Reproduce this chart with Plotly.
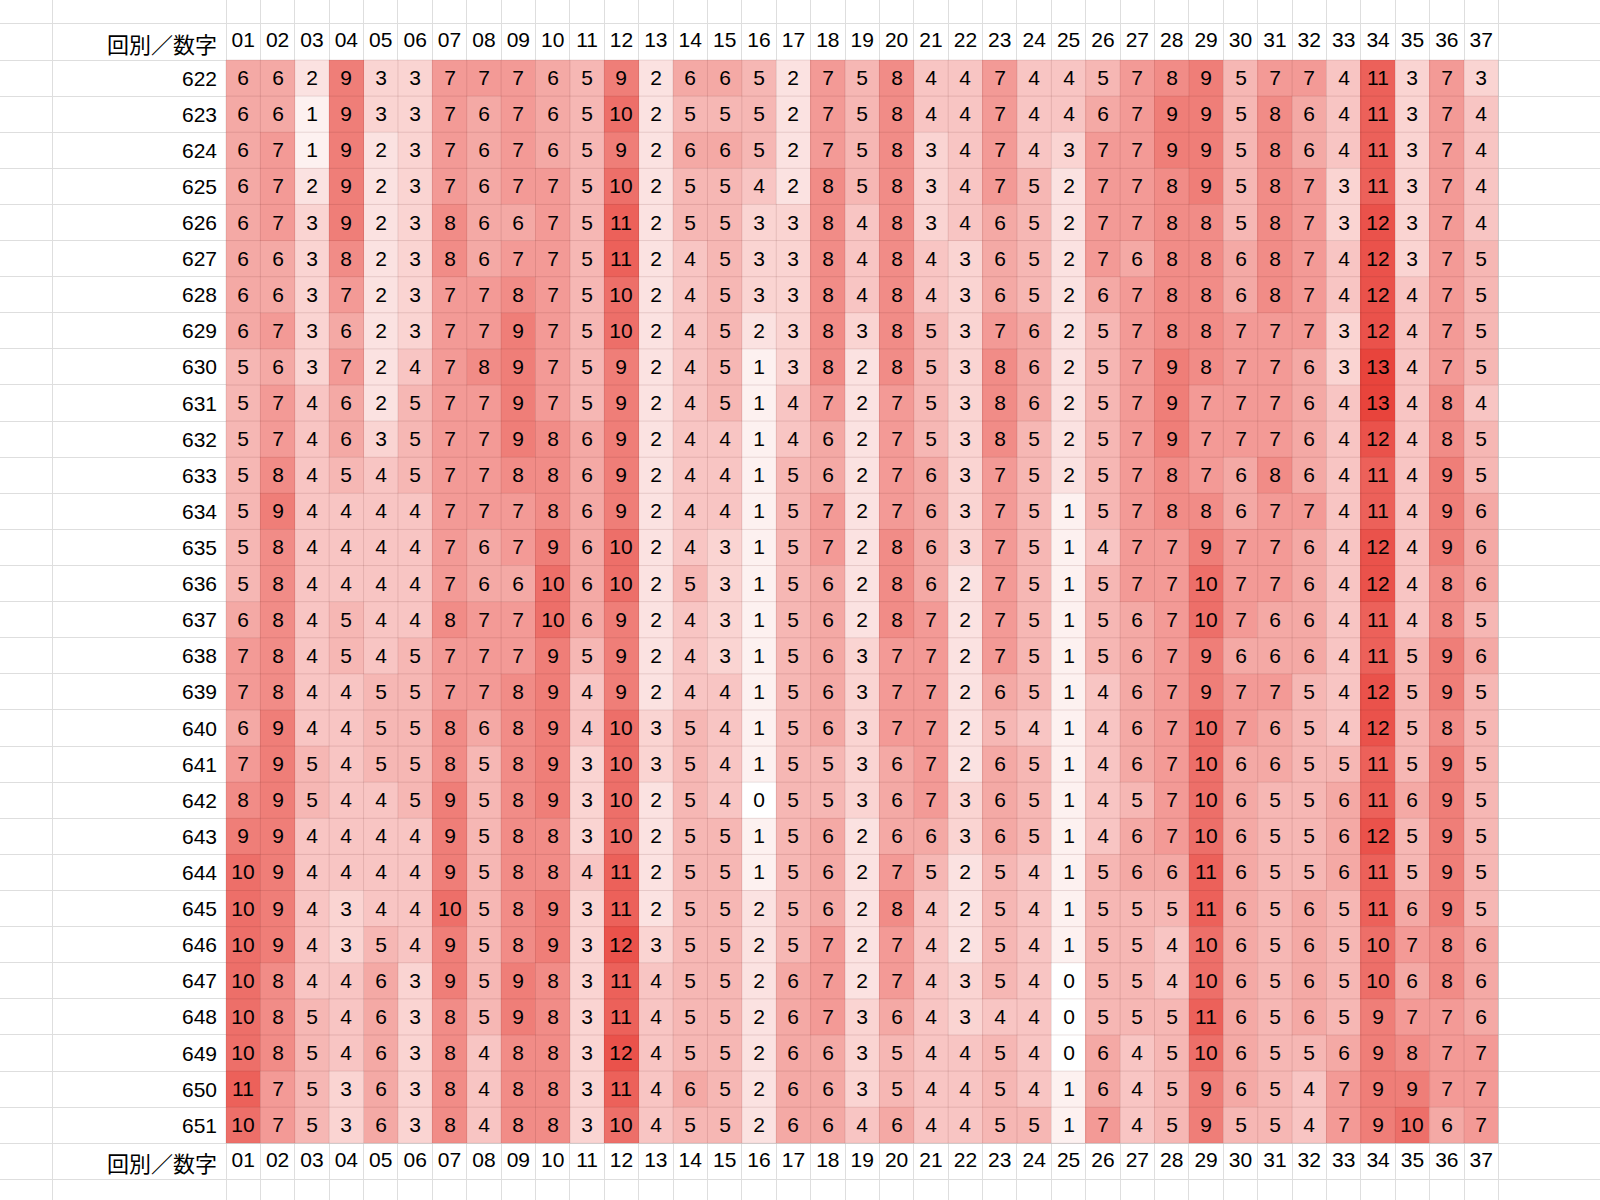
import plotly.graph_objects as go

# ---------------- data ----------------
corner_label = "回別／数字"
numbers = [f"{i:02d}" for i in range(1, 38)]
draws = [str(d) for d in range(622, 652)]

counts = [
    [6, 6, 2, 9, 3, 3, 7, 7, 7, 6, 5, 9, 2, 6, 6, 5, 2, 7, 5, 8, 4, 4, 7, 4, 4, 5, 7, 8, 9, 5, 7, 7, 4, 11, 3, 7, 3],
    [6, 6, 1, 9, 3, 3, 7, 6, 7, 6, 5, 10, 2, 5, 5, 5, 2, 7, 5, 8, 4, 4, 7, 4, 4, 6, 7, 9, 9, 5, 8, 6, 4, 11, 3, 7, 4],
    [6, 7, 1, 9, 2, 3, 7, 6, 7, 6, 5, 9, 2, 6, 6, 5, 2, 7, 5, 8, 3, 4, 7, 4, 3, 7, 7, 9, 9, 5, 8, 6, 4, 11, 3, 7, 4],
    [6, 7, 2, 9, 2, 3, 7, 6, 7, 7, 5, 10, 2, 5, 5, 4, 2, 8, 5, 8, 3, 4, 7, 5, 2, 7, 7, 8, 9, 5, 8, 7, 3, 11, 3, 7, 4],
    [6, 7, 3, 9, 2, 3, 8, 6, 6, 7, 5, 11, 2, 5, 5, 3, 3, 8, 4, 8, 3, 4, 6, 5, 2, 7, 7, 8, 8, 5, 8, 7, 3, 12, 3, 7, 4],
    [6, 6, 3, 8, 2, 3, 8, 6, 7, 7, 5, 11, 2, 4, 5, 3, 3, 8, 4, 8, 4, 3, 6, 5, 2, 7, 6, 8, 8, 6, 8, 7, 4, 12, 3, 7, 5],
    [6, 6, 3, 7, 2, 3, 7, 7, 8, 7, 5, 10, 2, 4, 5, 3, 3, 8, 4, 8, 4, 3, 6, 5, 2, 6, 7, 8, 8, 6, 8, 7, 4, 12, 4, 7, 5],
    [6, 7, 3, 6, 2, 3, 7, 7, 9, 7, 5, 10, 2, 4, 5, 2, 3, 8, 3, 8, 5, 3, 7, 6, 2, 5, 7, 8, 8, 7, 7, 7, 3, 12, 4, 7, 5],
    [5, 6, 3, 7, 2, 4, 7, 8, 9, 7, 5, 9, 2, 4, 5, 1, 3, 8, 2, 8, 5, 3, 8, 6, 2, 5, 7, 9, 8, 7, 7, 6, 3, 13, 4, 7, 5],
    [5, 7, 4, 6, 2, 5, 7, 7, 9, 7, 5, 9, 2, 4, 5, 1, 4, 7, 2, 7, 5, 3, 8, 6, 2, 5, 7, 9, 7, 7, 7, 6, 4, 13, 4, 8, 4],
    [5, 7, 4, 6, 3, 5, 7, 7, 9, 8, 6, 9, 2, 4, 4, 1, 4, 6, 2, 7, 5, 3, 8, 5, 2, 5, 7, 9, 7, 7, 7, 6, 4, 12, 4, 8, 5],
    [5, 8, 4, 5, 4, 5, 7, 7, 8, 8, 6, 9, 2, 4, 4, 1, 5, 6, 2, 7, 6, 3, 7, 5, 2, 5, 7, 8, 7, 6, 8, 6, 4, 11, 4, 9, 5],
    [5, 9, 4, 4, 4, 4, 7, 7, 7, 8, 6, 9, 2, 4, 4, 1, 5, 7, 2, 7, 6, 3, 7, 5, 1, 5, 7, 8, 8, 6, 7, 7, 4, 11, 4, 9, 6],
    [5, 8, 4, 4, 4, 4, 7, 6, 7, 9, 6, 10, 2, 4, 3, 1, 5, 7, 2, 8, 6, 3, 7, 5, 1, 4, 7, 7, 9, 7, 7, 6, 4, 12, 4, 9, 6],
    [5, 8, 4, 4, 4, 4, 7, 6, 6, 10, 6, 10, 2, 5, 3, 1, 5, 6, 2, 8, 6, 2, 7, 5, 1, 5, 7, 7, 10, 7, 7, 6, 4, 12, 4, 8, 6],
    [6, 8, 4, 5, 4, 4, 8, 7, 7, 10, 6, 9, 2, 4, 3, 1, 5, 6, 2, 8, 7, 2, 7, 5, 1, 5, 6, 7, 10, 7, 6, 6, 4, 11, 4, 8, 5],
    [7, 8, 4, 5, 4, 5, 7, 7, 7, 9, 5, 9, 2, 4, 3, 1, 5, 6, 3, 7, 7, 2, 7, 5, 1, 5, 6, 7, 9, 6, 6, 6, 4, 11, 5, 9, 6],
    [7, 8, 4, 4, 5, 5, 7, 7, 8, 9, 4, 9, 2, 4, 4, 1, 5, 6, 3, 7, 7, 2, 6, 5, 1, 4, 6, 7, 9, 7, 7, 5, 4, 12, 5, 9, 5],
    [6, 9, 4, 4, 5, 5, 8, 6, 8, 9, 4, 10, 3, 5, 4, 1, 5, 6, 3, 7, 7, 2, 5, 4, 1, 4, 6, 7, 10, 7, 6, 5, 4, 12, 5, 8, 5],
    [7, 9, 5, 4, 5, 5, 8, 5, 8, 9, 3, 10, 3, 5, 4, 1, 5, 5, 3, 6, 7, 2, 6, 5, 1, 4, 6, 7, 10, 6, 6, 5, 5, 11, 5, 9, 5],
    [8, 9, 5, 4, 4, 5, 9, 5, 8, 9, 3, 10, 2, 5, 4, 0, 5, 5, 3, 6, 7, 3, 6, 5, 1, 4, 5, 7, 10, 6, 5, 5, 6, 11, 6, 9, 5],
    [9, 9, 4, 4, 4, 4, 9, 5, 8, 8, 3, 10, 2, 5, 5, 1, 5, 6, 2, 6, 6, 3, 6, 5, 1, 4, 6, 7, 10, 6, 5, 5, 6, 12, 5, 9, 5],
    [10, 9, 4, 4, 4, 4, 9, 5, 8, 8, 4, 11, 2, 5, 5, 1, 5, 6, 2, 7, 5, 2, 5, 4, 1, 5, 6, 6, 11, 6, 5, 5, 6, 11, 5, 9, 5],
    [10, 9, 4, 3, 4, 4, 10, 5, 8, 9, 3, 11, 2, 5, 5, 2, 5, 6, 2, 8, 4, 2, 5, 4, 1, 5, 5, 5, 11, 6, 5, 6, 5, 11, 6, 9, 5],
    [10, 9, 4, 3, 5, 4, 9, 5, 8, 9, 3, 12, 3, 5, 5, 2, 5, 7, 2, 7, 4, 2, 5, 4, 1, 5, 5, 4, 10, 6, 5, 6, 5, 10, 7, 8, 6],
    [10, 8, 4, 4, 6, 3, 9, 5, 9, 8, 3, 11, 4, 5, 5, 2, 6, 7, 2, 7, 4, 3, 5, 4, 0, 5, 5, 4, 10, 6, 5, 6, 5, 10, 6, 8, 6],
    [10, 8, 5, 4, 6, 3, 8, 5, 9, 8, 3, 11, 4, 5, 5, 2, 6, 7, 3, 6, 4, 3, 4, 4, 0, 5, 5, 5, 11, 6, 5, 6, 5, 9, 7, 7, 6],
    [10, 8, 5, 4, 6, 3, 8, 4, 8, 8, 3, 12, 4, 5, 5, 2, 6, 6, 3, 5, 4, 4, 5, 4, 0, 6, 4, 5, 10, 6, 5, 5, 6, 9, 8, 7, 7],
    [11, 7, 5, 3, 6, 3, 8, 4, 8, 8, 3, 11, 4, 6, 5, 2, 6, 6, 3, 5, 4, 4, 5, 4, 1, 6, 4, 5, 9, 6, 5, 4, 7, 9, 9, 7, 7],
    [10, 7, 5, 3, 6, 3, 8, 4, 8, 8, 3, 10, 4, 5, 5, 2, 6, 6, 4, 6, 4, 4, 5, 5, 1, 7, 4, 5, 9, 5, 5, 4, 7, 9, 10, 6, 7],
]

# ---------------- layout constants (sheet geometry) ----------------
W, H = 1600, 1200
COL_W = 34.39          # px per number column
ROW_H = 36.11          # px per row
TABLE_LEFT = 226       # px, left edge of column "01"
HEADER_BOTTOM = 60     # px, top edge of first data row
FIRST_COL_LINE = 52    # px, leftmost sheet gridline

def px_to_col(px):
    return 0.5 + (px - TABLE_LEFT) / COL_W

def px_to_row(py):
    return 0.5 + (py - HEADER_BOTTOM) / ROW_H

n_cols = len(numbers)
n_rows = len(draws)
col_pos = list(range(1, n_cols + 1))
row_pos = list(range(1, n_rows + 1))
top_hdr_row = 0
bot_hdr_row = n_rows + 1

FONT = "Liberation Sans, Arial, sans-serif"
CJK = "Noto Sans CJK JP, Noto Sans CJK SC, sans-serif"
FS = 21
TXT = "#000000"

fig = go.Figure()

fig.add_trace(go.Heatmap(
    x=col_pos, y=row_pos, z=counts,
    zmin=0, zmax=13,
    colorscale=[[0, "#ffffff"], [1, "rgb(232,68,60)"]],
    showscale=False,
    texttemplate="%{z}",
    textfont=dict(family=FONT, size=FS, color=TXT),
    hoverinfo="skip",
))

# column headers (top and bottom)
for yr in (top_hdr_row, bot_hdr_row):
    fig.add_trace(go.Scatter(
        x=col_pos, y=[yr] * n_cols, text=numbers, mode="text",
        textfont=dict(family=FONT, size=FS, color=TXT),
        textposition="middle center", hoverinfo="skip", showlegend=False,
    ))
    fig.add_annotation(x=0.5, y=yr, text=corner_label, showarrow=False,
                       xanchor="right", xshift=-7, yanchor="middle", yshift=-1,
                       font=dict(family=CJK, size=22, color=TXT))

# row labels
for r, lab in zip(row_pos, draws):
    fig.add_annotation(x=0.5, y=r, text=lab, showarrow=False,
                       xanchor="right", xshift=-7, yanchor="middle",
                       font=dict(family=FONT, size=FS, color=TXT))

# cell borders over the coloured area
shapes = []
border = dict(color="rgba(90,30,30,0.13)", width=1)
for i in range(n_cols + 1):
    x = 0.5 + i
    shapes.append(dict(type="line", xref="x", yref="y", x0=x, x1=x,
                       y0=0.5, y1=n_rows + 0.5, line=border, layer="above"))
for j in range(n_rows + 1):
    y = 0.5 + j
    shapes.append(dict(type="line", xref="x", yref="y", x0=0.5, x1=n_cols + 0.5,
                       y0=y, y1=y, line=border, layer="above"))

grid_x = [px_to_col(FIRST_COL_LINE)] + [0.5 + i for i in range(n_cols + 1)]
grid_y = [-0.5 + k for k in range(n_rows + 4)]

fig.update_layout(
    width=W, height=H,
    margin=dict(l=0, r=0, t=0, b=0),
    paper_bgcolor="white", plot_bgcolor="white",
    shapes=shapes,
    showlegend=False,
    xaxis=dict(range=[px_to_col(0), px_to_col(W)], tickvals=grid_x,
               showticklabels=False, showgrid=True, gridcolor="#dedede",
               gridwidth=1, zeroline=False, showline=False, fixedrange=True),
    yaxis=dict(range=[px_to_row(H), px_to_row(0)], tickvals=grid_y,
               showticklabels=False, showgrid=True, gridcolor="#dedede",
               gridwidth=1, zeroline=False, showline=False, fixedrange=True),
)

fig.write_html("out.html", config={"displayModeBar": False, "staticPlot": True})

# remove the browser's default page margin so the sheet starts at the corner
with open("out.html", "r", encoding="utf-8") as f:
    html = f.read()
html = html.replace("<head>", "<head><style>html,body{margin:0;padding:0;overflow:hidden;}</style>", 1)
with open("out.html", "w", encoding="utf-8") as f:
    f.write(html)
